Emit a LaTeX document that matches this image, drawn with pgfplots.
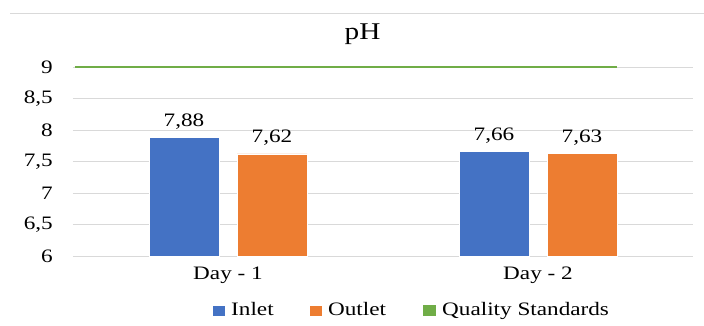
\documentclass[border=0pt]{standalone}
\usepackage{pgfplots}
\pgfplotsset{compat=1.18}
\usepackage{fontspec}
\setmainfont{Liberation Serif}[FakeStretch=1.22]
\definecolor{inletblue}{HTML}{4472C4}
\definecolor{outletorange}{HTML}{ED7D31}
\definecolor{qsgreen}{HTML}{70AD47}
\definecolor{gridgray}{HTML}{D9D9D9}
\begin{document}
\fontsize{19}{22}\selectfont
\begin{tikzpicture}
\useasboundingbox (0,0) rectangle (704pt,326pt);
\fill[white] (0,0) rectangle (704pt,326pt);
\draw[gridgray, line width=0.6pt] (10pt,313pt) -- (704pt,313pt);
\begin{axis}[
  at={(73pt,70pt)}, anchor=south west,
  scale only axis, width=620pt, height=189pt,
  xmin=-0.5, xmax=1.5, ymin=6, ymax=9,
  xtick={0,1}, xticklabels={Day - 1, Day - 2},
  ytick={6,6.5,7,7.5,8,8.5,9},
  ymajorgrids, grid style={gridgray, line width=0.8pt},
  axis line style={draw=none},
  tick style={draw=none},
  /pgf/number format/assume math mode=true,
  /pgf/number format/use comma,
  font=\fontsize{19}{22}\selectfont,
  yticklabel style={anchor=east, inner sep=0pt, xshift=-20pt},
  xticklabel style={anchor=north, inner sep=0pt, yshift=-11pt},
  title={pH},
  title style={at={(0.467,1.116)}, anchor=base, inner sep=0pt, font=\fontsize{24}{28}\selectfont},
  legend columns=3,
  legend style={at={(0.226,-0.288)}, anchor=west, draw=none, fill=none,
    inner sep=0pt, font=\fontsize{19}{22}\selectfont,
    nodes={inner sep=2.5pt},
    /tikz/every odd column/.append style={column sep=4pt},
    /tikz/every even column/.append style={column sep=34pt}},
  legend cell align=left,
  clip=false,
]
\addplot[ybar, bar width=70pt, bar shift=-44pt, fill=inletblue, draw=white, line width=0.4pt,
  nodes near coords, nodes near coords style={anchor=base, inner sep=0pt, xshift=-44pt, yshift=11pt, font=\fontsize{19}{22}\selectfont, /pgf/number format/.cd, fixed, precision=2, fixed zerofill, use comma, assume math mode=true},
  legend image code/.code={\fill[inletblue] (0pt,-4.5pt) rectangle (11pt,4.5pt);}]
  coordinates {(0,7.88) (1,7.66)};
\addlegendentry{Inlet}
\addplot[ybar, bar width=70pt, bar shift=44pt, fill=outletorange, draw=white, line width=0.4pt,
  nodes near coords, nodes near coords style={anchor=base, inner sep=0pt, xshift=44pt, yshift=11pt, font=\fontsize{19}{22}\selectfont, /pgf/number format/.cd, fixed, precision=2, fixed zerofill, use comma, assume math mode=true},
  legend image code/.code={\fill[outletorange] (0pt,-4.5pt) rectangle (11pt,4.5pt);}]
  coordinates {(0,7.62) (1,7.63)};
\addlegendentry{Outlet}
\addplot[qsgreen, line width=2.2pt, mark=none,
  legend image code/.code={\fill[qsgreen] (0pt,-4.5pt) rectangle (11pt,4.5pt);}]
  coordinates {(-0.494,9) (1.255,9)};
\addlegendentry{Quality Standards}
\end{axis}
\end{tikzpicture}
\end{document}
